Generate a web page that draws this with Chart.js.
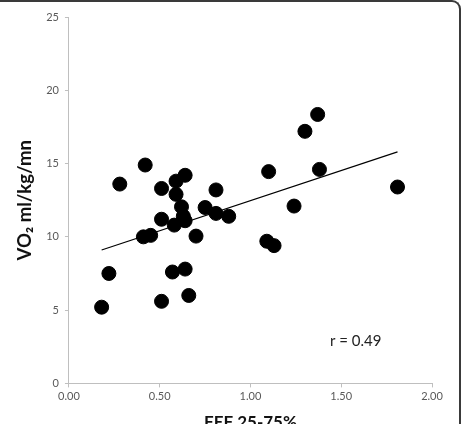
<!DOCTYPE html>
<html>
<head>
<meta charset="utf-8">
<script src="https://cdn.jsdelivr.net/npm/chart.js@4.4.0/dist/chart.umd.min.js"></script>
<style>
  html, body { margin: 0; padding: 0; background: #fff; overflow: hidden; }
  #wrap { position: absolute; left: 0; top: 0; width: 463px; height: 433px; }
  #frame {
    position: absolute; left: -10px; top: 0; width: 471px; height: 440px;
    border-top: 2px solid #3a3a3a; border-right: 2px solid #3a3a3a;
    border-top-right-radius: 9px; box-sizing: border-box; pointer-events: none;
  }
</style>
</head>
<body>
<div id="wrap"><canvas id="c"></canvas></div>
<div id="frame"></div>
<script>
// FEF 25-75% (x) vs VO2 ml/kg/mn (y)
const fefValues = [0.18, 0.22, 0.28, 0.42, 0.41, 0.45, 0.51, 0.51, 0.51, 0.57,
                   0.58, 0.59, 0.59, 0.64, 0.62, 0.63, 0.64, 0.64, 0.66, 0.70,
                   0.75, 0.81, 0.81, 0.88, 1.10, 1.30, 1.37, 1.38, 1.24, 1.09,
                   1.13, 1.81];
const vo2Values = [5.2, 7.5, 13.6, 14.9, 10.0, 10.1, 13.3, 11.2, 5.6, 7.6,
                   10.8, 13.8, 12.9, 14.2, 12.05, 11.4, 11.1, 7.8, 6.0, 10.05,
                   12.0, 13.2, 11.6, 11.4, 14.45, 17.2, 18.35, 14.6, 12.1, 9.7,
                   9.4, 13.4];
// linear trend line endpoints
const trendX = [0.18, 1.81];
const trendY = [9.1, 15.8];
const xTicks = [0, 0.5, 1, 1.5, 2];
const yTicks = [0, 5, 10, 15, 20, 25];
const rLabel = 'r = 0.49';
const rLabelPos = { x: 1.58, y: 2.9 };

const FONT = 'Lato, "Open Sans", sans-serif';

const rText = {
  id: 'rText',
  afterDatasetsDraw(chart) {
    const { ctx, scales } = chart;
    ctx.save();
    ctx.font = '15px ' + FONT;
    ctx.fillStyle = '#222';
    ctx.textAlign = 'center';
    ctx.textBaseline = 'middle';
    ctx.fillText(rLabel, scales.x.getPixelForValue(rLabelPos.x), scales.y.getPixelForValue(rLabelPos.y));
    ctx.restore();
  }
};

new Chart(document.getElementById('c'), {
  type: 'scatter',
  data: {
    datasets: [{
      data: fefValues.map((x, i) => ({ x: x, y: vo2Values[i] })),
      backgroundColor: '#000',
      borderColor: '#000',
      pointRadius: 7,
      pointHoverRadius: 7,
      order: 1
    }, {
      type: 'line',
      data: trendX.map((x, i) => ({ x: x, y: trendY[i] })),
      borderColor: '#000',
      borderWidth: 1.2,
      pointRadius: 0,
      fill: false,
      order: 2
    }]
  },
  options: {
    responsive: true,
    maintainAspectRatio: false,
    animation: false,
    layout: { padding: { left: 9, right: 31, top: 17, bottom: 0 } },
    plugins: { legend: { display: false }, tooltip: { enabled: false } },
    scales: {
      x: {
        type: 'linear', min: 0, max: 2,
        afterBuildTicks: s => { s.ticks = xTicks.map(v => ({ value: v })); },
        ticks: { color: '#595959', font: { size: 11, family: FONT }, padding: 2,
                 callback: v => v.toFixed(2) },
        grid: { drawOnChartArea: false, color: '#bfbfbf', tickLength: 4 },
        border: { color: '#bfbfbf', width: 1 },
        title: { display: true, text: 'FEF 25-75%', color: '#111',
                 font: { size: 17, weight: 'bold', family: FONT }, padding: { top: 8, bottom: 0 } }
      },
      y: {
        type: 'linear', min: 0, max: 25,
        afterBuildTicks: s => { s.ticks = yTicks.map(v => ({ value: v })); },
        ticks: { color: '#595959', font: { size: 11, family: FONT }, padding: 6 },
        grid: { drawOnChartArea: false, color: '#bfbfbf', tickLength: 4 },
        border: { color: '#bfbfbf', width: 1 },
        title: { display: true, text: 'VO\u2082 ml/kg/mn', color: '#111',
                 font: { size: 18.5, weight: 'bold', family: FONT }, padding: { top: 5, bottom: 4 } }
      }
    }
  },
  plugins: [rText]
});
</script>
</body>
</html>
